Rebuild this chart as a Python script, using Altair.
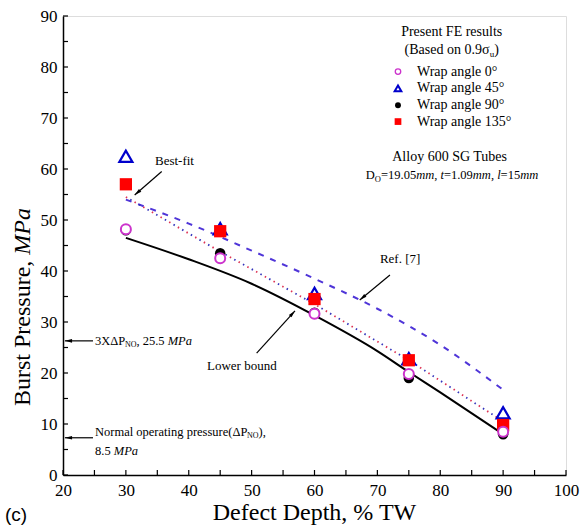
import math
import altair as alt
import pandas as pd

# ---------------- data ----------------
depth = [30, 45, 60, 75, 90]
wrap0 = [48.2, 42.5, 31.6, 19.8, 8.5]
wrap45 = [62.5, 48.3, 35.6, 22.8, 12.2]
wrap90 = [48.0, 43.5, 31.8, 19.0, 8.0]
wrap135 = [57.0, 47.8, 34.5, 22.5, 9.8]

fit_x = [30, 45, 60, 75, 90]
fit_y = [54.5, 43.8, 33.5, 22.5, 10.5]
ref_x = [30, 40, 50, 60, 70, 80, 90]
ref_y = [54.0, 49.3, 44.0, 38.5, 32.6, 25.5, 16.7]
lb_x = [30, 40, 50, 60, 70, 75, 80, 90]
lb_y = [46.5, 42.3, 37.5, 31.3, 24.3, 20.2, 16.2, 8.0]

x_ticks = list(range(20, 101, 5))
y_ticks = list(range(0, 91, 5))

legend_labels = ["Wrap angle 0°", "Wrap angle 45°", "Wrap angle 90°", "Wrap angle 135°"]

# ---------------- layout ----------------
W, H = 503, 459
SX, SY = W / 80.0, H / 90.0
SERIF = "Liberation Serif"
XS = alt.Scale(domain=[20, 100], nice=False, zero=False)
YS = alt.Scale(domain=[0, 90], nice=False, zero=False)

AX = dict(ticks=False, domain=True, domainColor="black", domainWidth=1.5, grid=False,
          labelFont=SERIF, labelFontSize=17, labelColor="black", labelOverlap=False,
          labelFlush=False, title=None,
          labelExpr="datum.value % 10 == 0 ? datum.label : ''")
XAX = alt.Axis(values=x_ticks, labelPadding=7, **AX)
YAX = alt.Axis(values=y_ticks, labelPadding=6, **AX)

TW = {' ': 250, '(': 333, ')': 333, ',': 250, '.': 250, '=': 564, '-': 333, '[': 333, ']': 333,
      '%': 833, 'A': 722, 'B': 667, 'D': 722, 'E': 611, 'F': 556, 'G': 722, 'L': 611, 'M': 889,
      'N': 722, 'O': 722, 'P': 556, 'R': 667, 'S': 556, 'T': 611, 'W': 944, 'X': 722,
      'a': 444, 'b': 500, 'c': 444, 'd': 500, 'e': 444, 'f': 333, 'g': 500, 'h': 500, 'i': 278,
      'l': 278, 'm': 778, 'n': 500, 'o': 500, 'p': 500, 'r': 333, 's': 389, 't': 278, 'u': 500,
      'w': 722, 'y': 500, 'Δ': 612, 'σ': 550, '°': 400}
TWI = {'M': 833, 'P': 611, 'a': 500, 'm': 722, 't': 278, 'l': 278}


def tw(s, size, italic=False):
    tot = 0
    for ch in s:
        if italic and ch in TWI:
            tot += TWI[ch]
        else:
            tot += TW.get(ch, 500)
    return tot * size / 1000.0


def xq(field="x"):
    return alt.X(f"{field}:Q", scale=XS, axis=XAX, title=None)


def yq(field="y"):
    return alt.Y(f"{field}:Q", scale=YS, axis=YAX, title=None)


def rich(xd, yd, parts, align="left"):
    widths = [tw(t, s, it) for (t, s, it, dy) in parts]
    off = 0 if align == "left" else -sum(widths) / 2
    out = []
    for (t, s, it, dy), w in zip(parts, widths):
        df = pd.DataFrame({"x": [xd], "y": [yd], "t": [t]})
        out.append(alt.Chart(df).mark_text(
            align="left", baseline="middle", dx=off, dy=dy, fontSize=s,
            fontStyle="italic" if it else "normal", font=SERIF, color="black"
        ).encode(x=xq(), y=yq(), text="t:N"))
        off += w
    return out


HEAD = "M0,-1L0.45,0.8L-0.45,0.8Z"


def arrow(x1, y1, x2, y2):
    dxp = (x2 - x1) * SX
    dyp = -(y2 - y1) * SY
    L = math.hypot(dxp, dyp)
    ux, uy = dxp / L, dyp / L
    ang = math.degrees(math.atan2(dxp, -dyp)) % 360
    df = pd.DataFrame({"x": [x1], "y": [y1], "x2": [x2], "y2": [y2]})
    rule = alt.Chart(df).mark_rule(color="black", strokeWidth=1.2).encode(
        x=xq(), y=yq(), x2="x2:Q", y2="y2:Q")
    hx = x2 - 4 * ux / SX
    hy = y2 + 4 * uy / SY
    hd = pd.DataFrame({"x": [hx], "y": [hy]})
    head = alt.Chart(hd).mark_point(shape=HEAD, filled=True, color="black", size=64,
                                    angle=ang, opacity=1).encode(x=xq(), y=yq())
    return [rule, head]


# ---------------- inward ticks ----------------
xt = alt.Chart(pd.DataFrame({"x": x_ticks})).mark_rule(color="black", strokeWidth=1.2).encode(
    x=xq(), y=alt.value(H), y2=alt.value(H - 5))
yt = alt.Chart(pd.DataFrame({"y": y_ticks})).mark_rule(color="black", strokeWidth=1.2).encode(
    y=yq(), x=alt.value(0), x2=alt.value(5))

# ---------------- curves ----------------
lb_df = pd.DataFrame({"x": lb_x, "y": lb_y})
ref_df = pd.DataFrame({"x": ref_x, "y": ref_y})
fit_df = pd.DataFrame({"x": fit_x, "y": fit_y})

lower = alt.Chart(lb_df).mark_line(color="black", strokeWidth=2, interpolate="monotone").encode(x=xq(), y=yq())
ref = alt.Chart(ref_df).mark_line(color="#4f35d8", strokeWidth=2, strokeDash=[6, 7],
                                  interpolate="monotone").encode(x=xq(), y=yq())
fit_r = alt.Chart(fit_df).mark_line(color="#dd3355", strokeWidth=1.8, strokeDash=[1.5, 8.5],
                                    strokeCap="butt").encode(x=xq(), y=yq())
fit_b = alt.Chart(fit_df).mark_line(color="#3333bb", strokeWidth=1.8, strokeDash=[1.5, 8.5],
                                    strokeDashOffset=5, strokeCap="butt").encode(x=xq(), y=yq())

# ---------------- points ----------------
pts = pd.DataFrame({"x": depth, "w0": wrap0, "w45": wrap45, "w90": wrap90, "w135": wrap135})
tri = alt.Chart(pts).mark_point(shape="triangle-up", filled=True, fill="white", stroke="#0000cc",
                                strokeWidth=2.2, size=170, opacity=1).encode(x=xq(), y=yq("w45"))
sq = alt.Chart(pts).mark_square(color="#ff0000", size=150, opacity=1).encode(x=xq(), y=yq("w135"))
blk = alt.Chart(pts).mark_circle(color="black", size=110, opacity=1).encode(x=xq(), y=yq("w90"))
circ = alt.Chart(pts).mark_point(shape="circle", filled=True, fill="white", stroke="#cc33cc",
                                 strokeWidth=2, size=100, opacity=1).encode(x=xq(), y=yq("w0"))

# ---------------- legend (inside plot) ----------------
leg_x = 73.28
leg_rows = [79.1, 75.8, 72.5, 69.3]
l0 = alt.Chart(pd.DataFrame({"x": [leg_x], "y": [leg_rows[0]]})).mark_point(
    shape="circle", filled=False, stroke="#cc33cc", strokeWidth=1.3, size=30, opacity=1).encode(x=xq(), y=yq())
l1 = alt.Chart(pd.DataFrame({"x": [leg_x], "y": [leg_rows[1]]})).mark_point(
    shape="triangle-up", filled=True, fill="white", stroke="#0000cc", strokeWidth=2, size=45, opacity=1).encode(x=xq(), y=yq())
l2 = alt.Chart(pd.DataFrame({"x": [leg_x], "y": [leg_rows[2]]})).mark_circle(
    color="black", size=35, opacity=1).encode(x=xq(), y=yq())
l3 = alt.Chart(pd.DataFrame({"x": [leg_x], "y": [leg_rows[3]]})).mark_square(
    color="#ff0000", size=45, opacity=1).encode(x=xq(), y=yq())

texts = []
texts += rich(81.82, 86.8, [("Present FE results", 14, False, 0)], align="center")
texts += rich(81.82, 83.3, [("(Based on 0.9σ", 14, False, 0), ("u", 9, False, 4), (")", 14, False, 0)], align="center")
for lab, yy in zip(legend_labels, leg_rows):
    texts += rich(76.3, yy, [(lab, 14, False, 0)])
texts += rich(81.55, 62.4, [("Alloy 600 SG Tubes", 14, False, 0)], align="center")
texts += rich(81.87, 58.8, [("D", 12.5, False, 0), ("O", 8.5, False, 4), ("=19.05", 12.5, False, 0),
                            ("mm", 12.5, True, 0), (", ", 12.5, False, 0), ("t", 12.5, True, 0),
                            ("=1.09", 12.5, False, 0), ("mm", 12.5, True, 0), (", ", 12.5, False, 0),
                            ("l", 12.5, True, 0), ("=15", 12.5, False, 0), ("mm", 12.5, True, 0)],
              align="center")

# annotations
texts += rich(34.63, 61.6, [("Best-fit", 13, False, 0)])
texts += rich(70.4, 42.35, [("Ref. [7]", 13, False, 0)])
texts += rich(42.9, 21.4, [("Lower bound", 13, False, 0)])
texts += rich(25.09, 26.3, [("3XΔP", 12.5, False, 0), ("NO", 8, False, 4), (", 25.5 ", 12.5, False, 0),
                            ("MPa", 12.5, True, 0)])
texts += rich(25.09, 8.5, [("Normal operating pressure(ΔP", 12.5, False, 0), ("NO", 8, False, 4),
                           ("),", 12.5, False, 0)])
texts += rich(25.09, 4.8, [("8.5 ", 12.5, False, 0), ("MPa", 12.5, True, 0)])

arrows = []
arrows += arrow(35.7, 59.5, 31.4, 54.9)
arrows += arrow(72.0, 39.2, 67.2, 34.3)
arrows += arrow(50.8, 23.9, 56.9, 32.2)
arrows += arrow(24.77, 26.3, 20.3, 26.3)
arrows += arrow(24.77, 7.3, 20.3, 7.3)

# ---------------- axis titles and panel label ----------------
w1 = tw("Burst Pressure, ", 24)
w2 = tw("MPa", 24, True)
cy = 291
ytitle1 = alt.Chart(pd.DataFrame({"t": ["Burst Pressure,"]})).mark_text(
    align="left", baseline="middle", angle=270, fontSize=24, font=SERIF, color="black"
).encode(x=alt.value(-40), y=alt.value(cy + (w1 + w2) / 2), text="t:N")
ytitle2 = alt.Chart(pd.DataFrame({"t": ["MPa"]})).mark_text(
    align="left", baseline="middle", angle=270, fontSize=24, font=SERIF, fontStyle="italic", color="black"
).encode(x=alt.value(-40), y=alt.value(cy + (w1 + w2) / 2 - w1), text="t:N")
xtitle = alt.Chart(pd.DataFrame({"t": ["Defect Depth, % TW"]})).mark_text(
    align="center", baseline="middle", fontSize=24, font=SERIF, color="black"
).encode(x=alt.value(W / 2), y=alt.value(497), text="t:N")
panel = alt.Chart(pd.DataFrame({"t": ["(c)"]})).mark_text(
    align="left", baseline="middle", fontSize=19, font="Liberation Sans", color="black"
).encode(x=alt.value(-58), y=alt.value(499), text="t:N")

chart = alt.layer(
    ref, fit_r, fit_b, lower, tri, sq, blk, circ, l0, l1, l2, l3, xt, yt,
    *arrows, *texts, ytitle1, ytitle2, xtitle, panel
).properties(
    width=W, height=H,
    autosize=alt.AutoSizeParams(type="none"),
    padding={"left": 63, "top": 16, "right": 19, "bottom": 50},
).configure_view(
    stroke="black", strokeWidth=1.5
).configure(background="white")

chart.save("out.html", embed_options={"renderer": "svg", "actions": False})
